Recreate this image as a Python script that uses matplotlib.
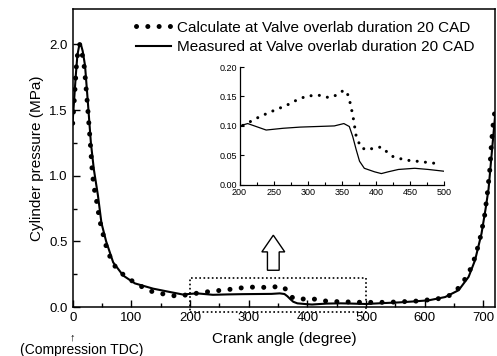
import numpy as np
import matplotlib.pyplot as plt
from matplotlib.patches import FancyArrow, Rectangle

plt.rcParams['font.family'] = ['Liberation Sans', 'DejaVu Sans']

# measured cylinder pressure (solid line)
meas_ca = [0, 2, 5, 8, 11, 14, 17, 21, 26, 31, 36, 43, 49, 57, 69, 86, 106, 137,
           165, 188, 200, 212, 239, 264, 289, 314, 339, 353, 361, 366, 371, 376,
           383, 398, 408, 418, 433, 457, 477, 500, 530, 556, 580, 607, 635, 658,
           675, 686, 697, 704, 709, 714, 718, 720]
meas_p = [1.42, 1.55, 1.75, 1.92, 1.99, 2.0, 1.95, 1.84, 1.55, 1.25, 1.05, 0.85,
          0.64, 0.5, 0.34, 0.24, 0.18, 0.14, 0.115, 0.095, 0.10, 0.104, 0.093,
          0.096, 0.098, 0.099, 0.1, 0.104, 0.099, 0.082, 0.06, 0.04, 0.028, 0.022,
          0.019, 0.022, 0.026, 0.028, 0.026, 0.023, 0.03, 0.035, 0.042, 0.051,
          0.076, 0.128, 0.23, 0.357, 0.56, 0.75, 0.9, 1.15, 1.35, 1.45]

# calculated cylinder pressure (dotted line)
calc_ca = [0, 3, 6, 9, 12, 15, 20, 25, 30, 33, 36, 41, 46, 52, 58, 66, 75, 94,
           109, 123, 137, 154, 171, 185, 200, 212, 230, 250, 269, 284, 299, 319,
           331, 344, 353, 358, 363, 367, 371, 378, 388, 398, 408, 415, 425, 443,
           460, 490, 520, 550, 590, 624, 643, 660, 675, 686, 694, 702, 707, 711,
           714, 717, 720]
calc_p = [1.40, 1.6, 1.82, 1.96, 2.0, 1.96, 1.82, 1.55, 1.25, 1.05, 0.92, 0.8,
          0.66, 0.55, 0.446, 0.356, 0.29, 0.217, 0.18, 0.14, 0.115, 0.10, 0.086,
          0.085, 0.098, 0.105, 0.116, 0.126, 0.135, 0.144, 0.151, 0.152, 0.148,
          0.153, 0.161, 0.156, 0.136, 0.112, 0.083, 0.063, 0.059, 0.063, 0.064,
          0.057, 0.048, 0.042, 0.04, 0.036, 0.035, 0.038, 0.046, 0.064, 0.089,
          0.153, 0.255, 0.38, 0.51, 0.687, 0.866, 1.04, 1.25, 1.4, 1.5]

label_calc = 'Calculate at Valve overlab duration 20 CAD'
label_meas = 'Measured at Valve overlab duration 20 CAD'

fig = plt.figure(figsize=(4.97, 3.56), dpi=100)
ax = fig.add_axes([0.1463, 0.1376, 0.8497, 0.837])

ax.plot(meas_ca, meas_p, color='black', lw=1.5, label=label_meas)
ax.plot(calc_ca, calc_p, color='black', lw=3.6, linestyle=(0, (0.01, 2.25)),
        dash_capstyle='round', label=label_calc)

ax.set_xlim(0, 720)
ax.set_ylim(0, 2.27)
ax.set_xticks([0, 100, 200, 300, 400, 500, 600, 700])
ax.set_xticks(np.arange(50, 720, 100), minor=True)
ax.set_yticks([0.0, 0.5, 1.0, 1.5, 2.0])
ax.set_yticks([0.25, 0.75, 1.25, 1.75], minor=True)
ax.tick_params(which='both', direction='in', labelsize=9.5, width=1)
ax.tick_params(which='major', length=5)
ax.tick_params(which='minor', length=3)
for s in ax.spines.values():
    s.set_linewidth(1.1)
ax.set_xlabel('Crank angle (degree)', fontsize=11, labelpad=6)
ax.set_ylabel('Cylinder pressure (MPa)', fontsize=11, labelpad=4)

h, l = ax.get_legend_handles_labels()
ax.legend(h[::-1], l[::-1], loc='upper left', bbox_to_anchor=(128 / 497, 1 - 13 / 356),
          bbox_transform=fig.transFigure, frameon=False, fontsize=11,
          handlelength=2.3, handletextpad=0.4, borderpad=0, labelspacing=0.35)

# dotted zoom box and hollow arrow
ax.add_patch(Rectangle((200, -0.04), 300, 0.262, fill=False, ec='black',
                       lw=1.2, linestyle=(0, (1, 1.5)), clip_on=False))
ax.add_patch(FancyArrow(342, 0.28, 0, 0.267, width=20, head_width=39,
                        head_length=0.127, length_includes_head=True,
                        fc='white', ec='black', lw=1))

# compression TDC mark
fig.text(72 / 497, 1 - 342 / 356, '\u2191', ha='center', va='bottom', fontsize=8)
fig.text(82 / 497, 1 - 343 / 356, '(Compression TDC)', ha='center', va='top', fontsize=10)

# inset
ins = fig.add_axes([0.482, 0.481, 0.4115, 0.3306])
ins.plot(meas_ca, meas_p, color='black', lw=0.9)
ins.plot(calc_ca[:-15], calc_p[:-15], color='black', lw=2.2,
         linestyle=(0, (0.01, 2.7)), dash_capstyle='round')
ins.set_xlim(200, 500)
ins.set_ylim(0, 0.2)
ins.set_xticks([200, 250, 300, 350, 400, 450, 500])
ins.set_xticks(np.arange(225, 500, 50), minor=True)
ins.set_yticks([0.0, 0.05, 0.10, 0.15, 0.20])
ins.set_yticklabels(['0.00', '0.05', '0.10', '0.15', '0.20'])
ins.tick_params(which='both', direction='in', labelsize=6.5, width=0.8, pad=1.5)
ins.tick_params(axis='x', pad=2.5)
ins.tick_params(which='major', length=3)
ins.tick_params(which='minor', length=2)
ins.spines['top'].set_visible(False)
ins.spines['right'].set_visible(False)
for s in ['left', 'bottom']:
    ins.spines[s].set_linewidth(0.9)
ins.patch.set_alpha(0)

fig.savefig('out.png', dpi=100)
